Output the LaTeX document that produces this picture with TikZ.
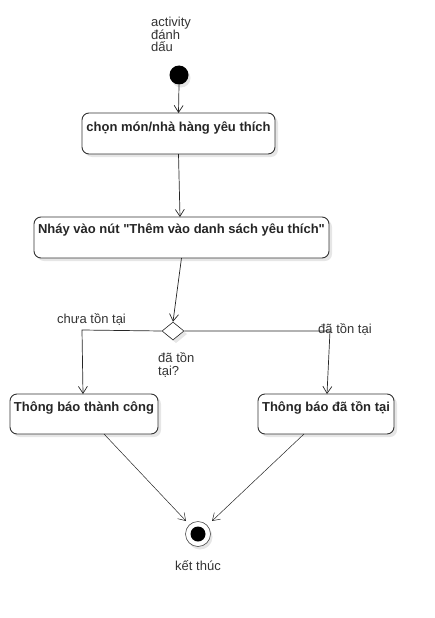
\documentclass[tikz,border=0pt]{standalone}
\usepackage{fontspec}
\setmainfont{Liberation Sans}[Ligatures=TeXOff]
\usetikzlibrary{arrows.meta,shapes.geometric}
\definecolor{txt}{HTML}{333333}
\definecolor{shad}{HTML}{E6E6E6}
\tikzset{
  every picture/.style={x=1pt,y=-1pt},
  act/.style={draw=black!80,line width=0.9pt,rounded corners=7pt,fill=white,inner sep=0pt},
  actshadow/.style={fill=shad,rounded corners=7pt,draw=none},
  acttext/.style={font=\fontsize{13}{15}\selectfont\bfseries,text=black!85,anchor=base,inner sep=0pt},
  lbl/.style={font=\fontsize{13}{12.5}\selectfont,text=txt,inner sep=0pt,align=left},
  flow/.style={draw=black!85,line width=0.7pt,-{Straight Barb[length=7pt,width=9pt,line width=0.7pt]}},
  thin/.style={draw=black!85,line width=0.5pt,-{Straight Barb[length=7pt,width=9pt,line width=0.5pt]}},
}
\newcommand{\actbox}[5]{% name, x1, y1, x2, y2
  \fill[actshadow] (#2+3,#3+3) rectangle (#4+3,#5+3);
  \draw[act] (#2,#3) rectangle (#4,#5);
  \coordinate (#1-n) at ({(#2+#4)/2},#3);
  \coordinate (#1-s) at ({(#2+#4)/2},#5);
}
\begin{document}
\begin{tikzpicture}
\useasboundingbox (0,0) rectangle (434,618);
% title
\node[lbl,anchor=base west] (title) at (151,52) {activity\\đánh\\dấu};
% start
\fill[shad] (181,78) circle (9.5);
\node[circle,fill=black,minimum size=19pt,inner sep=0pt] (start) at (179,75) {};
% boxes
\actbox{b1}{82}{113}{275}{154}
\node[acttext] (t1) at (178.5,131) {chọn món/nhà hàng yêu thích};
\actbox{b2}{34}{217}{329}{258}
\node[acttext] (t2) at (181.5,233) {Nháy vào nút "Thêm vào danh sách yêu thích"};
\actbox{b3}{10}{394}{158}{434}
\node[acttext] (t3) at (84,411) {Thông báo thành công};
\actbox{b4}{258}{394}{394}{434}
\node[acttext] (t4) at (326,411) {Thông báo đã tồn tại};
% decision
\fill[shad] (176,325) -- (187,334) -- (176,343) -- (165,334) -- cycle;
\node[diamond,draw=black!85,fill=white,line width=0.6pt,minimum width=22pt,minimum height=18pt,inner sep=0pt] (dec) at (173,331) {};
% end
\fill[shad] (200,537) circle (12.5);
\node[circle,draw=black!70,fill=white,line width=0.6pt,minimum size=25pt,inner sep=0pt] (end) at (198,534) {};
\node[circle,fill=black,minimum size=15pt,inner sep=0pt] (endin) at (198,534) {};
% labels
\node[lbl,anchor=base west] (l1) at (57,323) {chưa tồn tại};
\node[lbl,anchor=base west] (l2) at (318,333) {đã tồn tại};
\node[lbl,anchor=base west] (l3) at (158,375) {đã tồn\\tại?};
\node[lbl,anchor=base] (l4) at (198,570) {kết thúc};
% connectors
\draw[flow] (start.south) -- (b1-n);
\draw[flow] (b1-s) -- (180,217);
\draw[flow] (b2-s) -- (dec.north);
\coordinate (cl) at (82,330);
\coordinate (cr) at (330,331);
\draw[flow] (dec.west) -- (cl) -- (83,394);
\draw[flow] (dec.east) -- (cr) -- (327,394);
\draw[thin] (104,434) -- (186,521);
\draw[thin] (304,434) -- (212,521);
\end{tikzpicture}
\end{document}
